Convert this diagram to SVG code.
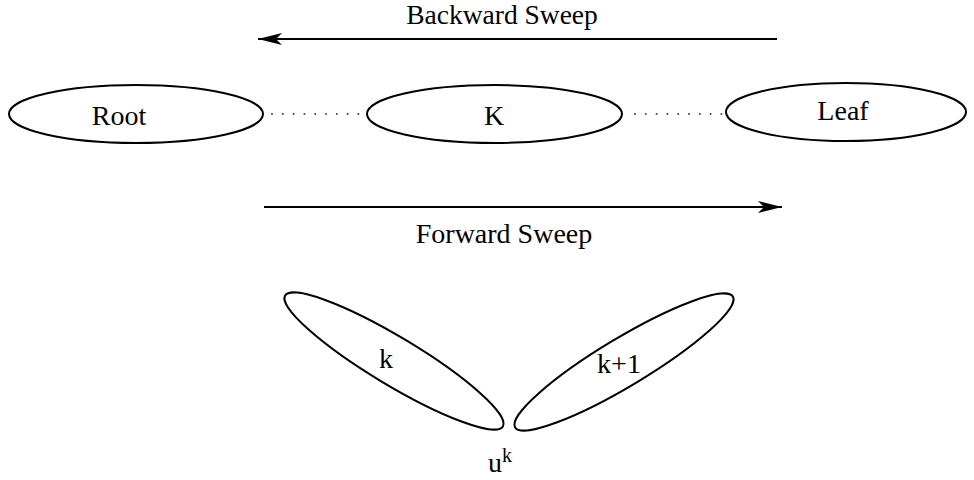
<svg xmlns="http://www.w3.org/2000/svg" width="974" height="480" viewBox="0 0 974 480">
<style>
  .node { fill: none; stroke: #000; stroke-width: 2; }
  .lbl { font-family: "Liberation Serif", "Times New Roman", serif; font-size: 28px; fill: #000; text-anchor: middle; }
  .arrow { stroke: #000; stroke-width: 2; fill: none; marker-end: url(#ah); }
  .dots { stroke: #444; stroke-width: 2; stroke-linecap: round; stroke-dasharray: 0 10.8; fill: none; }
</style>
<defs>
  <marker id="ah" viewBox="0 0 24 12" refX="24" refY="6" markerWidth="24" markerHeight="12" markerUnits="userSpaceOnUse" orient="auto">
    <path d="M24,6 L0,0 L6,6 L0,12 Z" fill="#000"/>
  </marker>
</defs>
<rect width="974" height="480" fill="#fff"/>
<g id="connectors">
  <line class="arrow" x1="777" y1="39" x2="258" y2="39"/>
  <line class="arrow" x1="264" y1="207" x2="782" y2="207"/>
  <line class="dots" x1="272" y1="114" x2="359" y2="114"/>
  <line class="dots" x1="635" y1="114" x2="722" y2="114"/>
</g>
<text class="lbl" x="502" y="24" style="font-size:27.5px">Backward Sweep</text>
<text class="lbl" x="504" y="243">Forward Sweep</text>
<g id="root">
  <ellipse class="node" cx="136" cy="114" rx="127" ry="29"/>
  <text class="lbl" x="119" y="125">Root</text>
</g>
<g id="K">
  <ellipse class="node" cx="494.5" cy="114" rx="127.5" ry="29"/>
  <text class="lbl" x="494" y="125">K</text>
</g>
<g id="leaf">
  <ellipse class="node" cx="846" cy="112" rx="120" ry="29"/>
  <text class="lbl" x="843" y="120">Leaf</text>
</g>
<g id="k">
  <ellipse class="node" cx="0" cy="0" rx="127" ry="24" transform="translate(394,361) rotate(31)"/>
  <text class="lbl" x="386" y="368">k</text>
</g>
<g id="k1">
  <ellipse class="node" cx="0" cy="0" rx="127" ry="24" transform="translate(624,362) rotate(-31)"/>
  <text class="lbl" x="619" y="373">k+1</text>
</g>
<g id="uk">
  <text class="lbl" x="488" y="472" style="text-anchor:start">u<tspan font-size="20" dy="-10">k</tspan></text>
</g>
</svg>
